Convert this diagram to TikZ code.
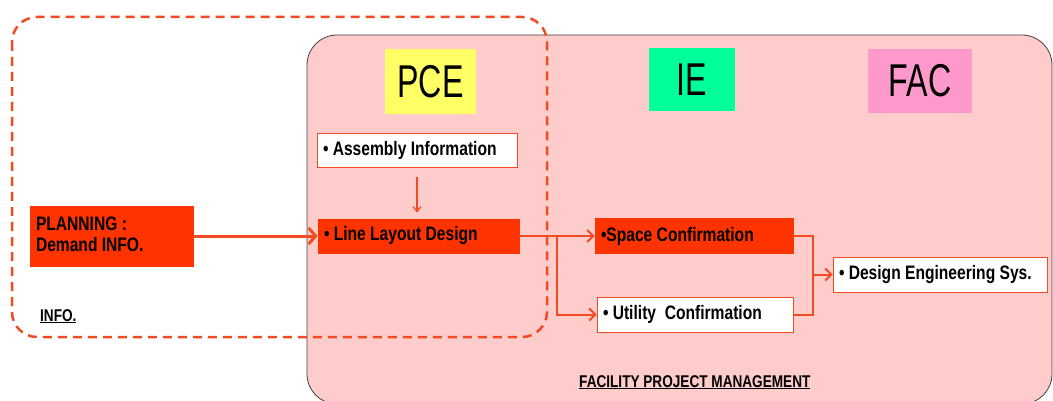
\documentclass[tikz,border=0pt]{standalone}
\usepackage{fontspec}
\setmainfont{Liberation Sans}
\newfontfamily\boxfont{Liberation Sans}[FakeStretch=0.8]
\newfontfamily\headfont{Liberation Sans}[FakeStretch=0.7]
\usetikzlibrary{arrows.meta}

\definecolor{hotorange}{RGB}{255,51,0}
\definecolor{wireorange}{RGB}{240,75,35}
\definecolor{fpmpink}{RGB}{255,204,204}
\definecolor{pceyellow}{RGB}{255,255,102}
\definecolor{iegreen}{RGB}{0,255,153}
\definecolor{facpink}{RGB}{255,153,204}

% left aligned text of a given width
\newcommand{\padtext}[2]{\makebox[#1][l]{#2}}

\tikzset{
    deptbox/.style={inner sep=0pt, font=\headfont\fontsize{46}{46}\selectfont},
    itembox/.style={draw=wireorange, line width=0.8pt, inner xsep=6pt, inner ysep=0pt,
        font=\boxfont\bfseries\fontsize{19.5}{24}\selectfont},
    hotbox/.style={itembox, fill=hotorange, draw=hotorange},
    plainbox/.style={itembox, fill=white},
    tag/.style={anchor=base west, inner sep=0pt, font=\boxfont\bfseries\fontsize{17}{17}\selectfont},
    flow/.style={draw=wireorange, line width=2pt, -{Straight Barb[length=6pt,width=12pt]}},
    link/.style={draw=wireorange, line width=2pt}
}

\begin{document}
\begin{tikzpicture}[x=1pt, y=-1pt]
    \useasboundingbox (0,0) rectangle (1053,401);

    % facility project management area
    \draw[fill=fpmpink, draw=black!75, line width=0.8pt, rounded corners=30pt] (307,35) rectangle (1052,404);
    % info area
    \draw[wireorange, line width=2.5pt, dash pattern=on 9pt off 6pt, rounded corners=25pt] (12,17) rectangle (547,337);

    % departments
    \foreach \name/\txt/\col/\x/\y/\w/\h in {pce/PCE/pceyellow/430.5/81.5/91/65,
                                         ie/IE/iegreen/692/79.5/86/63,
                                         fac/FAC/facpink/920/81/104/64} {
        \node[deptbox, fill=\col, minimum width=\w pt, minimum height=\h pt] (\name) at (\x,\y) {\txt};
    }

    % tasks
    \node[hotbox, minimum height=60pt] (plan) at (111.5,236)
        {\padtext{151pt}{\begin{tabular}{@{}l@{}}PLANNING :\\[-3pt]Demand INFO.\end{tabular}}};
    \node[plainbox, minimum height=34pt] (asm) at (417,150) {\padtext{188pt}{• Assembly Information}};
    \node[hotbox, minimum height=34pt] (lld) at (418.5,236) {\padtext{189pt}{• Line Layout Design}};
    \node[hotbox, minimum height=35pt] (space) at (694,236) {\padtext{186pt}{•Space Confirmation}};
    \node[plainbox, minimum height=35pt] (util) at (695,314.5) {\padtext{184pt}{• Utility\ \ Confirmation}};
    \node[plainbox, minimum height=35pt] (des) at (940,274.5) {\padtext{202pt}{• Design Engineering Sys.}};

    % area names
    \node[tag] (info) at (40,321) {\underline{INFO.}};
    \node[tag] (fpm) at (579,387) {\underline{FACILITY PROJECT MANAGEMENT}};

    % connectors
    \coordinate (split) at (557,236);
    \coordinate (join) at (813,274.5);
    \draw[flow, line width=3pt, -{Straight Barb[length=7pt,width=16pt]}] (plan) -- (lld);
    \draw[flow, line width=1.2pt, -{Straight Barb[length=5pt,width=8pt]}, shorten <=10pt, shorten >=6pt]
        (asm.south) -- (asm.south |- lld.north);
    \draw[flow] (lld.east) -- (space.west);
    \draw[flow] (split) |- (util.west);
    \draw[link] (space.east) -| (join) |- (util.east);
    \draw[flow] (join) -- (des.west);
\end{tikzpicture}
\end{document}
